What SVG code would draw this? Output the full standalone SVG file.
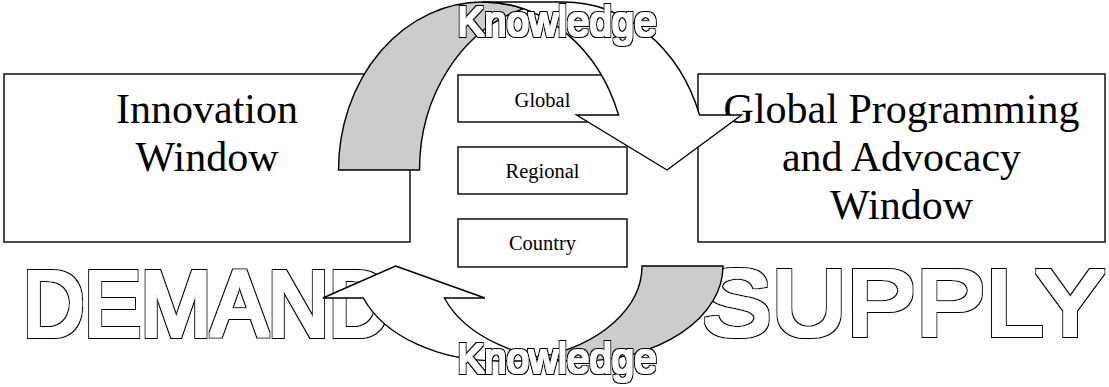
<svg xmlns="http://www.w3.org/2000/svg" width="1109" height="387" viewBox="0 0 1109 387">
  <style>
    .box { fill: #ffffff; stroke: #000000; stroke-width: 1.4; }
    .serif { font-family: "Liberation Serif", "Times New Roman", serif; fill: #000000; text-anchor: middle; }
    .window { font-size: 42px; }
    .level { font-size: 20.5px; }
    .outline { font-family: "Liberation Sans", Arial, sans-serif; font-weight: normal; fill: #000000; }
    .big { font-size: 92px; filter: url(#heavyRim); }
    .knowledge { font-size: 42px; filter: url(#lightRim); }
    .band-back { fill: #cccccc; stroke: #000000; stroke-width: 1.4; }
    .band-front { fill: #ffffff; stroke: #000000; stroke-width: 1.4; }
  </style>

  <defs>
    <!-- thickened white letters with a thin black rim -->
    <filter id="heavyRim" x="-5%" y="-15%" width="110%" height="130%">
      <feMorphology in="SourceAlpha" operator="dilate" radius="1.9" result="body"/>
      <feMorphology in="SourceAlpha" operator="dilate" radius="3.4" result="rim"/>
      <feFlood flood-color="#000000" result="ink"/>
      <feComposite in="ink" in2="rim" operator="in" result="rimInk"/>
      <feFlood flood-color="#ffffff" result="paper"/>
      <feComposite in="paper" in2="body" operator="in" result="bodyPaper"/>
      <feMerge>
        <feMergeNode in="rimInk"/>
        <feMergeNode in="bodyPaper"/>
      </feMerge>
    </filter>
    <filter id="lightRim" x="-5%" y="-20%" width="110%" height="140%">
      <feMorphology in="SourceAlpha" operator="dilate" radius="0.8" result="body"/>
      <feMorphology in="SourceAlpha" operator="dilate" radius="2.4" result="rim"/>
      <feFlood flood-color="#000000" result="ink"/>
      <feComposite in="ink" in2="rim" operator="in" result="rimInk"/>
      <feFlood flood-color="#ffffff" result="paper"/>
      <feComposite in="paper" in2="body" operator="in" result="bodyPaper"/>
      <feMerge>
        <feMergeNode in="rimInk"/>
        <feMergeNode in="bodyPaper"/>
      </feMerge>
    </filter>
  </defs>

  <rect x="0" y="0" width="1109" height="387" fill="#ffffff"/>

  <!-- side windows -->
  <g id="innovation-window">
    <rect class="box" x="4" y="74" width="406" height="168"/>
    <text class="serif window" x="207" y="123">Innovation</text>
    <text class="serif window" x="207" y="171">Window</text>
  </g>
  <g id="global-programming-window">
    <rect class="box" x="698" y="74" width="407" height="168"/>
    <text class="serif window" x="901.5" y="123">Global Programming</text>
    <text class="serif window" x="901.5" y="171">and Advocacy</text>
    <text class="serif window" x="901.5" y="219">Window</text>
  </g>

  <!-- levels in the middle -->
  <g id="level-global">
    <rect class="box" x="458" y="75" width="169" height="47"/>
    <text class="serif level" x="542.5" y="107">Global</text>
  </g>
  <g id="level-regional">
    <rect class="box" x="458" y="147" width="169" height="47"/>
    <text class="serif level" x="542.5" y="178">Regional</text>
  </g>
  <g id="level-country">
    <rect class="box" x="458" y="219" width="169" height="48"/>
    <text class="serif level" x="542.5" y="250">Country</text>
  </g>

  <!-- outlined side captions -->
  <g id="label-demand">
    <text class="outline big" x="23" y="335.5" textLength="367" lengthAdjust="spacingAndGlyphs">DEMAND</text>
  </g>
  <g id="label-supply">
    <text class="outline big" x="702" y="335" textLength="403" lengthAdjust="spacingAndGlyphs">SUPPLY</text>
  </g>

  <!-- curved ribbon arrows: shaded back leg + white front with arrowhead -->
  <g id="connectors">
    <g id="flow-top">
      <path class="band-back" d="M 338.5 170 A 144 168 0 0 1 482.5 2 A 144 168 0 0 1 523 8.8 A 144 168 0 0 0 419.5 170 Z"/>
      <path class="band-front" d="M 667 170 L 576.56 115 L 618.56 115 A 144 168 0 0 0 482.5 2 L 563.5 2 A 144 168 0 0 1 699.56 115 L 741.56 115 Z"/>
    </g>
    <g id="flow-bottom" transform="translate(723 361) rotate(180)">
      <path class="band-back" d="M 0 95 A 143.5 95 0 0 1 143.5 0 A 143.5 95 0 0 1 184 3.86 A 143.5 95 0 0 0 81 95 Z"/>
      <path class="band-front" d="M 327.5 95 L 238.12 63 L 278.62 63 A 143.5 95 0 0 0 143.5 0 L 224.5 0 A 143.5 95 0 0 1 359.62 63 L 400.12 63 Z"/>
    </g>
  </g>

  <g id="label-knowledge-top">
    <text class="outline knowledge" x="457.5" y="35.5" textLength="199" lengthAdjust="spacingAndGlyphs">Knowledge</text>
  </g>
  <g id="label-knowledge-bottom">
    <text class="outline knowledge" x="457.5" y="372.5" textLength="199" lengthAdjust="spacingAndGlyphs">Knowledge</text>
  </g>
</svg>
